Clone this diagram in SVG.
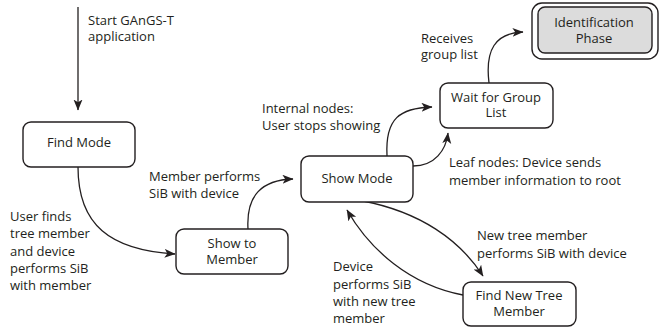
<svg xmlns="http://www.w3.org/2000/svg" width="670" height="330" viewBox="0 0 670 330">
<style>
text{font-family:"Open Sans","Noto Sans","DejaVu Sans",sans-serif;font-size:13px;fill:#231f20}
.c{text-anchor:middle}
.box{fill:#fff;stroke:#231f20;stroke-width:1.4}
.edge{fill:none;stroke:#231f20;stroke-width:1.3;marker-end:url(#ah)}
</style>
<defs>
<marker id="ah" markerUnits="userSpaceOnUse" markerWidth="12" markerHeight="10" refX="10.5" refY="4.5" orient="auto" viewBox="0 0 12 10">
<path d="M0,0 L11,4.5 L0,9 L2.8,4.5 z" fill="#231f20"/>
</marker>
</defs>
<rect width="670" height="330" fill="#fff"/>
<g id="connectors">
<path class="edge" d="M78,7 L78,110"/>
<path class="edge" d="M78,167 C78,225 110,250 175,254"/>
<path class="edge" d="M248,229 C246,195 262,180 293,179"/>
<path class="edge" d="M387,156 C385,118 400,108 432,107"/>
<path class="edge" d="M413,166 C435,166 446,150 448,133"/>
<path class="edge" d="M489,83 C485,50 495,33 523,32"/>
<path class="edge" d="M363,201 C420,212 460,240 483,276"/>
<path class="edge" d="M463,295 C410,285 370,250 347,210"/>
</g>
<g id="labels">
<text x="88" y="25">Start GAnGS-T</text>
<text x="88" y="41">application</text>
<text x="262" y="113">Internal nodes:</text>
<text x="262" y="130">User stops showing</text>
<text x="421" y="43">Receives</text>
<text x="421" y="59">group list</text>
<text x="449" y="167">Leaf nodes: Device sends</text>
<text x="449" y="185">member information to root</text>
<text x="149" y="181">Member performs</text>
<text x="149" y="198">SiB with device</text>
<text x="10" y="221">User finds</text>
<text x="10" y="238">tree member</text>
<text x="10" y="256">and device</text>
<text x="10" y="273">performs SiB</text>
<text x="10" y="290">with member</text>
<text x="477" y="240">New tree member</text>
<text x="477" y="258">performs SiB with device</text>
<text x="333" y="271">Device</text>
<text x="333" y="289">performs SiB</text>
<text x="333" y="306">with new tree</text>
<text x="333" y="323">member</text>
</g>
<g id="find-mode">
<rect class="box" x="23" y="122" width="112" height="45" rx="8"/>
<text class="c" x="79" y="147">Find Mode</text>
</g>
<g id="show-to-member">
<rect class="box" x="176" y="229" width="112" height="45" rx="8"/>
<text class="c" x="232" y="248">Show to</text>
<text class="c" x="232" y="264">Member</text>
</g>
<g id="show-mode">
<rect class="box" x="301" y="156" width="112" height="46" rx="8"/>
<text class="c" x="357" y="183">Show Mode</text>
</g>
<g id="wait-for-group-list">
<rect class="box" x="440" y="83" width="113" height="45" rx="8"/>
<text class="c" x="496" y="102">Wait for Group</text>
<text class="c" x="496" y="117">List</text>
</g>
<g id="identification-phase">
<rect class="box" x="532" y="3" width="126" height="56" rx="10"/>
<rect x="538" y="7" width="114" height="46" rx="7" fill="#dcdcdc" stroke="#231f20" stroke-width="1.4"/>
<text class="c" x="594" y="27">Identification</text>
<text class="c" x="594" y="43">Phase</text>
</g>
<g id="find-new-tree-member">
<rect class="box" x="463" y="282" width="113" height="44" rx="8"/>
<text class="c" x="519" y="300">Find New Tree</text>
<text class="c" x="519" y="316">Member</text>
</g>
</svg>
